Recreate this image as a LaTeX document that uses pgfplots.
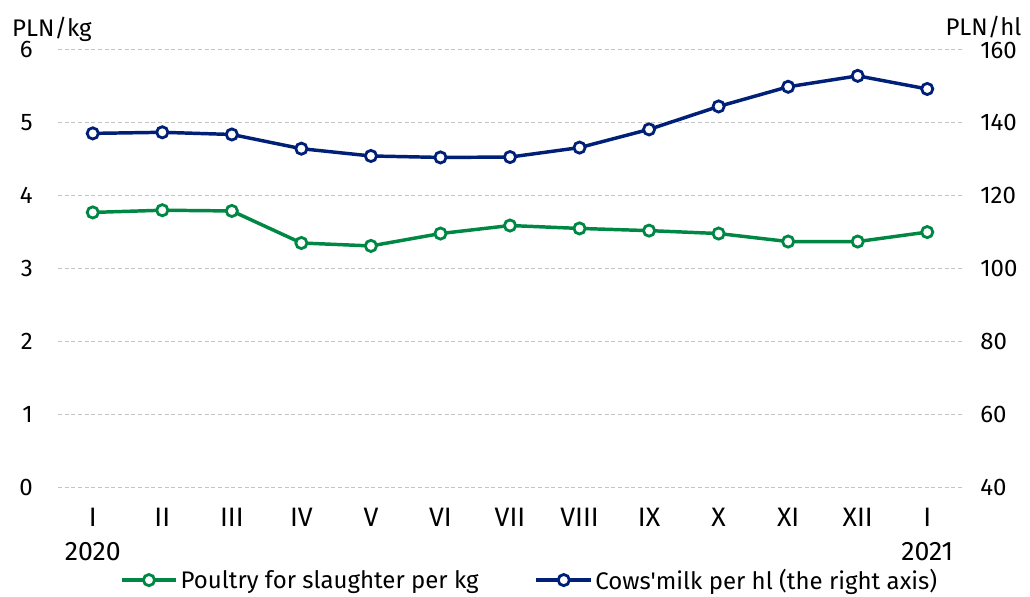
\documentclass[border=0pt]{standalone}
\usepackage{fontspec}
\setmainfont{Fira Sans}[Ligatures=TeXOff]
\usepackage{pgfplots}
\pgfplotsset{compat=1.18}
\definecolor{cgreen}{RGB}{0,135,68}
\definecolor{cnavy}{RGB}{0,32,120}
\definecolor{cgrid}{RGB}{195,195,195}

\pgfplotsset{
  base/.style={
    scale only axis, width=678pt, height=327.75pt,
    xmin=-0.5, xmax=12.5,
    axis line style={draw=none},
    tick style={draw=none},
    /pgf/number format/assume math mode=true,
    tick label style={font=\fontsize{18}{22}\selectfont},
  },
  greenline/.style={cgreen, line width=2.6pt, mark=*, mark size=4.2pt,
    mark options={fill=white, draw=cgreen, line width=2.1pt}},
  navyline/.style={cnavy, line width=2.6pt, mark=*, mark size=4.2pt,
    mark options={fill=white, draw=cnavy, line width=2.1pt}},
}

\begin{document}
\begin{tikzpicture}
\useasboundingbox (-43.5pt,-81.75pt) rectangle (729pt,365.25pt);
\begin{axis}[base,
  clip=false,
  ymin=0, ymax=6, ytick={0,1,2,3,4,5,6},
  ymajorgrids,
  grid style={cgrid, line width=0.75pt, dash pattern=on 3pt off 2pt},
  xtick={0,...,12},
  xticklabels={{I\\2020},II,III,IV,V,VI,VII,VIII,IX,X,XI,XII,{I\\2021}},
  xticklabel style={align=center, anchor=north, inner sep=0pt, yshift=-15.75pt,
    font=\fontsize{20}{25.5}\selectfont},
  yticklabel style={anchor=east, inner sep=0pt, xshift=-18.75pt},
]
\addplot[greenline] coordinates {
(0,3.77) (1,3.80) (2,3.79) (3,3.35) (4,3.31) (5,3.48) (6,3.59)
(7,3.55) (8,3.52) (9,3.48) (10,3.37) (11,3.37) (12,3.50)};
\node[anchor=base west, inner sep=0pt, font=\fontsize{18}{22}\selectfont]
  at (rel axis cs:-0.0509,1.032) {PLN/kg};
\node[anchor=base east, inner sep=0pt, font=\fontsize{18}{22}\selectfont]
  at (rel axis cs:1.066,1.034) {PLN/hl};
\end{axis}
\begin{axis}[base,
  axis y line*=right,
  hide x axis,
  ymin=40, ymax=160, ytick={40,60,...,160},
  yticklabel style={anchor=west, inner sep=0pt, xshift=13.5pt},
  legend style={at={(rel axis cs:0.522,-0.213)}, anchor=center, draw=none, fill=none,
    legend columns=2, font=\fontsize{18}{22}\selectfont,
    /tikz/every even column/.append style={column sep=40pt}},
  legend image code/.code={\draw[mark repeat=2, mark phase=2] plot coordinates {(0cm,0cm) (0.72cm,0cm) (1.44cm,0cm)};},
]
\addlegendimage{greenline}
\addlegendentry{Poultry for slaughter per kg}
\addplot[navyline] coordinates {
(0,137.1) (1,137.4) (2,136.8) (3,132.9) (4,130.9) (5,130.5) (6,130.6)
(7,133.2) (8,138.2) (9,144.5) (10,149.9) (11,152.9) (12,149.3)};
\addlegendentry{Cows'milk per hl (the right axis)}
\end{axis}
\end{tikzpicture}
\end{document}
